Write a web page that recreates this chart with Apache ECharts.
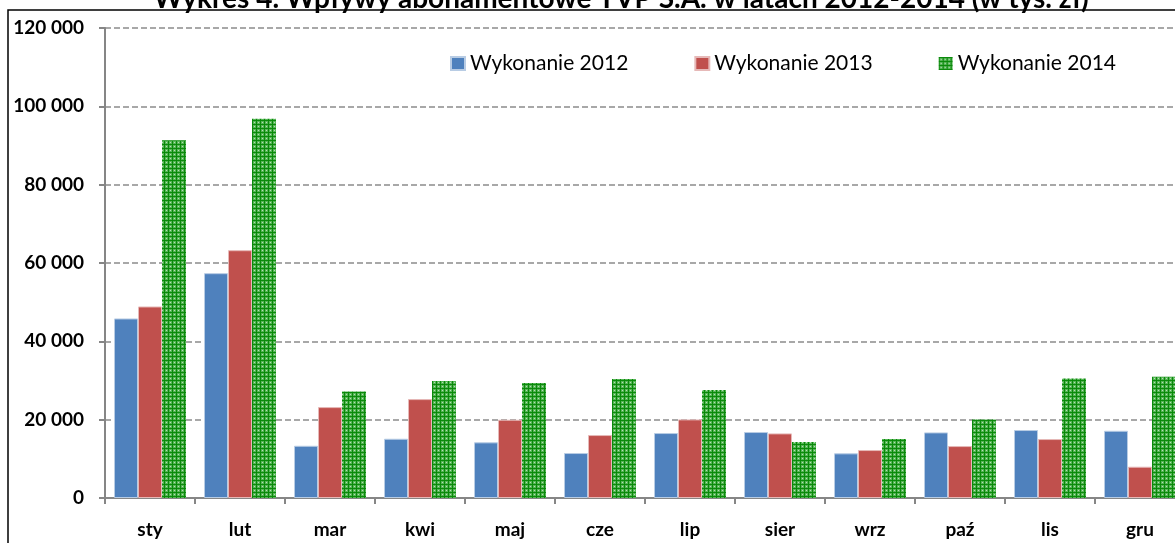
<!DOCTYPE html>
<html>
<head>
<meta charset="utf-8">
<script src="https://cdn.jsdelivr.net/npm/echarts@6/dist/echarts.min.js"></script>
<style>
html,body{margin:0;padding:0;background:#fff;}
#chart{width:1175px;height:543px;}
</style>
</head>
<body>
<div id="chart"></div>
<script>
// dane (w tys. zł)
var months = ['sty', 'lut', 'mar', 'kwi', 'maj', 'cze', 'lip', 'sier', 'wrz', 'paź', 'lis', 'gru'];
var seriesNames = ['Wykonanie 2012', 'Wykonanie 2013', 'Wykonanie 2014'];
var data2012 = [45840, 57400, 13340, 15130, 14210, 11480, 16580, 16840, 11400, 16750, 17350, 17170];
var data2013 = [48900, 63270, 23210, 25250, 19980, 16070, 20070, 16500, 12240, 13260, 15050, 7990];
var data2014 = [91330, 96860, 27220, 29850, 29340, 30360, 27550, 14290, 15050, 20070, 30530, 30950];
var yTicks = [0, 20000, 40000, 60000, 80000, 100000, 120000];

(function() {
	'use strict';
	//wzór kratki dla 2014
	function gridPattern() {
		var c = document.createElement('canvas');
		c.width = 4; c.height = 4;
		var ctx = c.getContext('2d');
		ctx.fillStyle = '#56b556';
		ctx.fillRect(0, 0, 4, 4);
		ctx.fillStyle = '#0b8a0b';
		ctx.fillRect(0, 0, 4, 1);
		ctx.fillRect(0, 0, 1, 4);
		ctx.fillStyle = '#b6e0b6';
		ctx.fillRect(2, 2, 1, 1);
		return c;
	}

	var font = 'Lato, "Open Sans", sans-serif';
	var chart = echarts.init(document.getElementById('chart'));
	var option = {
		animation: false,
		title: {
			text: 'Wykres 4. Wpływy abonamentowe TVP S.A. w latach 2012-2014 (w tys. zł)',
			left: 616,
			textAlign: 'center',
			top: -20,
			textStyle: {
				fontFamily: font,
				fontWeight: 'bold',
				fontSize: 28,
				color: '#000'
			}
		},
		graphic: [{
			type: 'rect',
			shape: {x: 8, y: 10, width: 1300, height: 700},
			style: {fill: null, stroke: '#000', lineWidth: 1.5},
			silent: true
		}],
		legend: {
			data: seriesNames,
			left: 450,
			top: 53,
			padding: 0,
			itemWidth: 14,
			itemHeight: 13,
			itemGap: 66,
			icon: 'rect',
			textStyle: {
				fontFamily: font,
				fontSize: 21,
				color: '#000',
				width: 159,
				padding: [0, 0, 0, 0]
			}
		},
		grid: {
			left: 105,
			width: 1080,
			top: 28,
			bottom: 45,
			outerBoundsMode: 'none'
		},
		xAxis: {
			type: 'category',
			data: months,
			axisLine: {lineStyle: {color: '#868686', width: 2}},
			axisTick: {show: true, length: 6, lineStyle: {color: '#868686', width: 2}},
			axisLabel: {
				fontFamily: font,
				fontWeight: 'bold',
				fontSize: 19,
				color: '#000',
				margin: 22,
				interval: 0
			}
		},
		yAxis: {
			type: 'value',
			min: yTicks[0],
			max: yTicks[yTicks.length - 1],
			interval: yTicks[1] - yTicks[0],
			axisLine: {show: true, lineStyle: {color: '#868686', width: 2}},
			axisTick: {show: true, length: 6, lineStyle: {color: '#868686', width: 2}},
			splitLine: {lineStyle: {color: '#8c8c8c', type: [6, 3], width: 1.5}},
			axisLabel: {
				fontFamily: font,
				fontWeight: 'bold',
				fontSize: 19,
				color: '#000',
				margin: 21,
				formatter: function(v) {
					return String(v).replace(/\B(?=(\d{3})+(?!\d))/g, ' ');
				}
			}
		},
		series: [{
			name: seriesNames[0],
			type: 'bar',
			barGap: 0,
			barCategoryGap: '20%',
			itemStyle: {color: '#4f81bd', borderColor: '#b8cce4', borderWidth: 1},
			data: data2012
		}, {
			name: seriesNames[1],
			type: 'bar',
			barGap: 0,
			barCategoryGap: '20%',
			itemStyle: {color: '#c0504d', borderColor: '#e6b9b8', borderWidth: 1},
			data: data2013
		}, {
			name: seriesNames[2],
			type: 'bar',
			barGap: 0,
			barCategoryGap: '20%',
			itemStyle: {color: {image: gridPattern(), repeat: 'repeat'}},
			data: data2014
		}]
	};
	chart.setOption(option);
})();
</script>
</body>
</html>
